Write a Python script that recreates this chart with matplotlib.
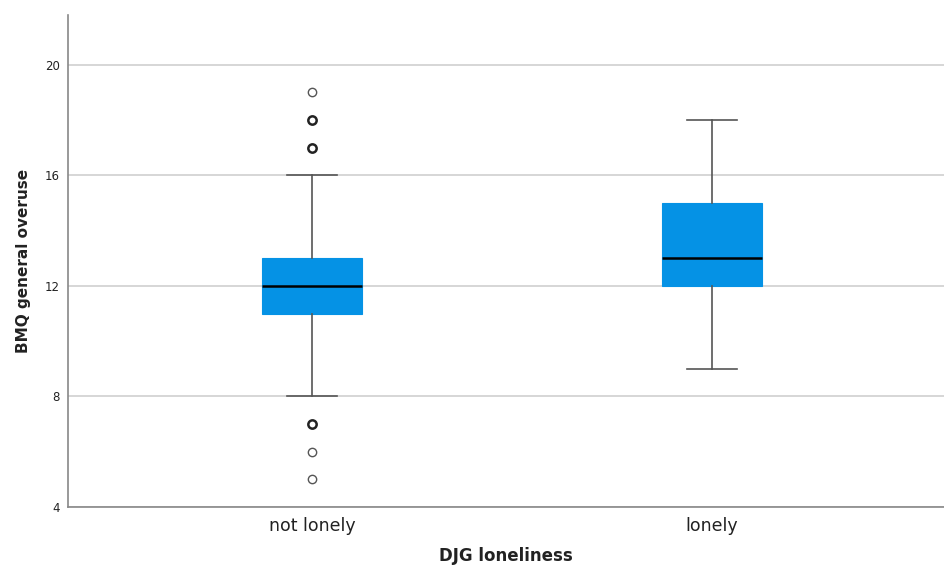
import numpy as np
import matplotlib.pyplot as plt

# box summaries
groups = ['not lonely', 'lonely']
medians = [12, 13]
q1 = [11, 12]
q3 = [13, 15]
whisker_lo = [8, 9]
whisker_hi = [16, 18]
# outliers per group: value and how many cases overlap there
outlier_vals = [[19, 18, 17, 7, 6, 5], []]
outlier_counts = [[1, 2, 2, 2, 1, 1], []]

box_color = '#0592E5'
grid_color = '#CFCFCF'
spine_color = '#888888'

fig = plt.figure(figsize=(9.44, 5.70), dpi=100)
ax = fig.add_axes([68 / 944, 1 - 507 / 570, 1 - 68 / 944, (507 - 15) / 570])

positions = np.arange(1, len(groups) + 1)
stats = []
for i, name in enumerate(groups):
    stats.append({
        'label': name,
        'med': medians[i],
        'q1': q1[i],
        'q3': q3[i],
        'whislo': whisker_lo[i],
        'whishi': whisker_hi[i],
        'fliers': [],
    })

ax.bxp(stats, positions=positions, widths=0.25, patch_artist=True,
       showfliers=False,
       boxprops=dict(facecolor=box_color, edgecolor=box_color, linewidth=0.8),
       medianprops=dict(color='black', linewidth=1.8),
       whiskerprops=dict(color='#555555', linewidth=1.2),
       capprops=dict(color='#555555', linewidth=1.2),
       capwidths=0.125, zorder=3)

# outliers, overlapping cases drawn with heavier rings
for i, pos in enumerate(positions):
    for v, c in zip(outlier_vals[i], outlier_counts[i]):
        ax.scatter([pos], [v], s=36, facecolor='white',
                   edgecolor='#222222' if c > 1 else '#555555',
                   linewidths=1.8 if c > 1 else 1.0, zorder=4)

ax.set_xlim(0.39, 2.58)
ax.set_ylim(4, 21.8)
ax.set_yticks([4, 8, 12, 16, 20])
ax.set_xticks(positions)
ax.set_xticklabels(groups, fontsize=12.5, color='#222222')
ax.tick_params(axis='y', labelsize=8.5, length=0, pad=6, colors='#222222')
ax.tick_params(axis='x', length=0, pad=7)

ax.yaxis.grid(True, color=grid_color, linewidth=1.2, zorder=0)
ax.set_axisbelow(True)

for side in ['top', 'right']:
    ax.spines[side].set_visible(False)
for side in ['left', 'bottom']:
    ax.spines[side].set_color(spine_color)
    ax.spines[side].set_linewidth(1.2)

ax.set_ylabel('BMQ general overuse', fontsize=11, fontweight='bold',
              color='#222222', labelpad=10)
ax.set_xlabel('DJG loneliness', fontsize=12, fontweight='bold',
              color='#222222', labelpad=9)

fig.savefig('out.png', dpi=100)
